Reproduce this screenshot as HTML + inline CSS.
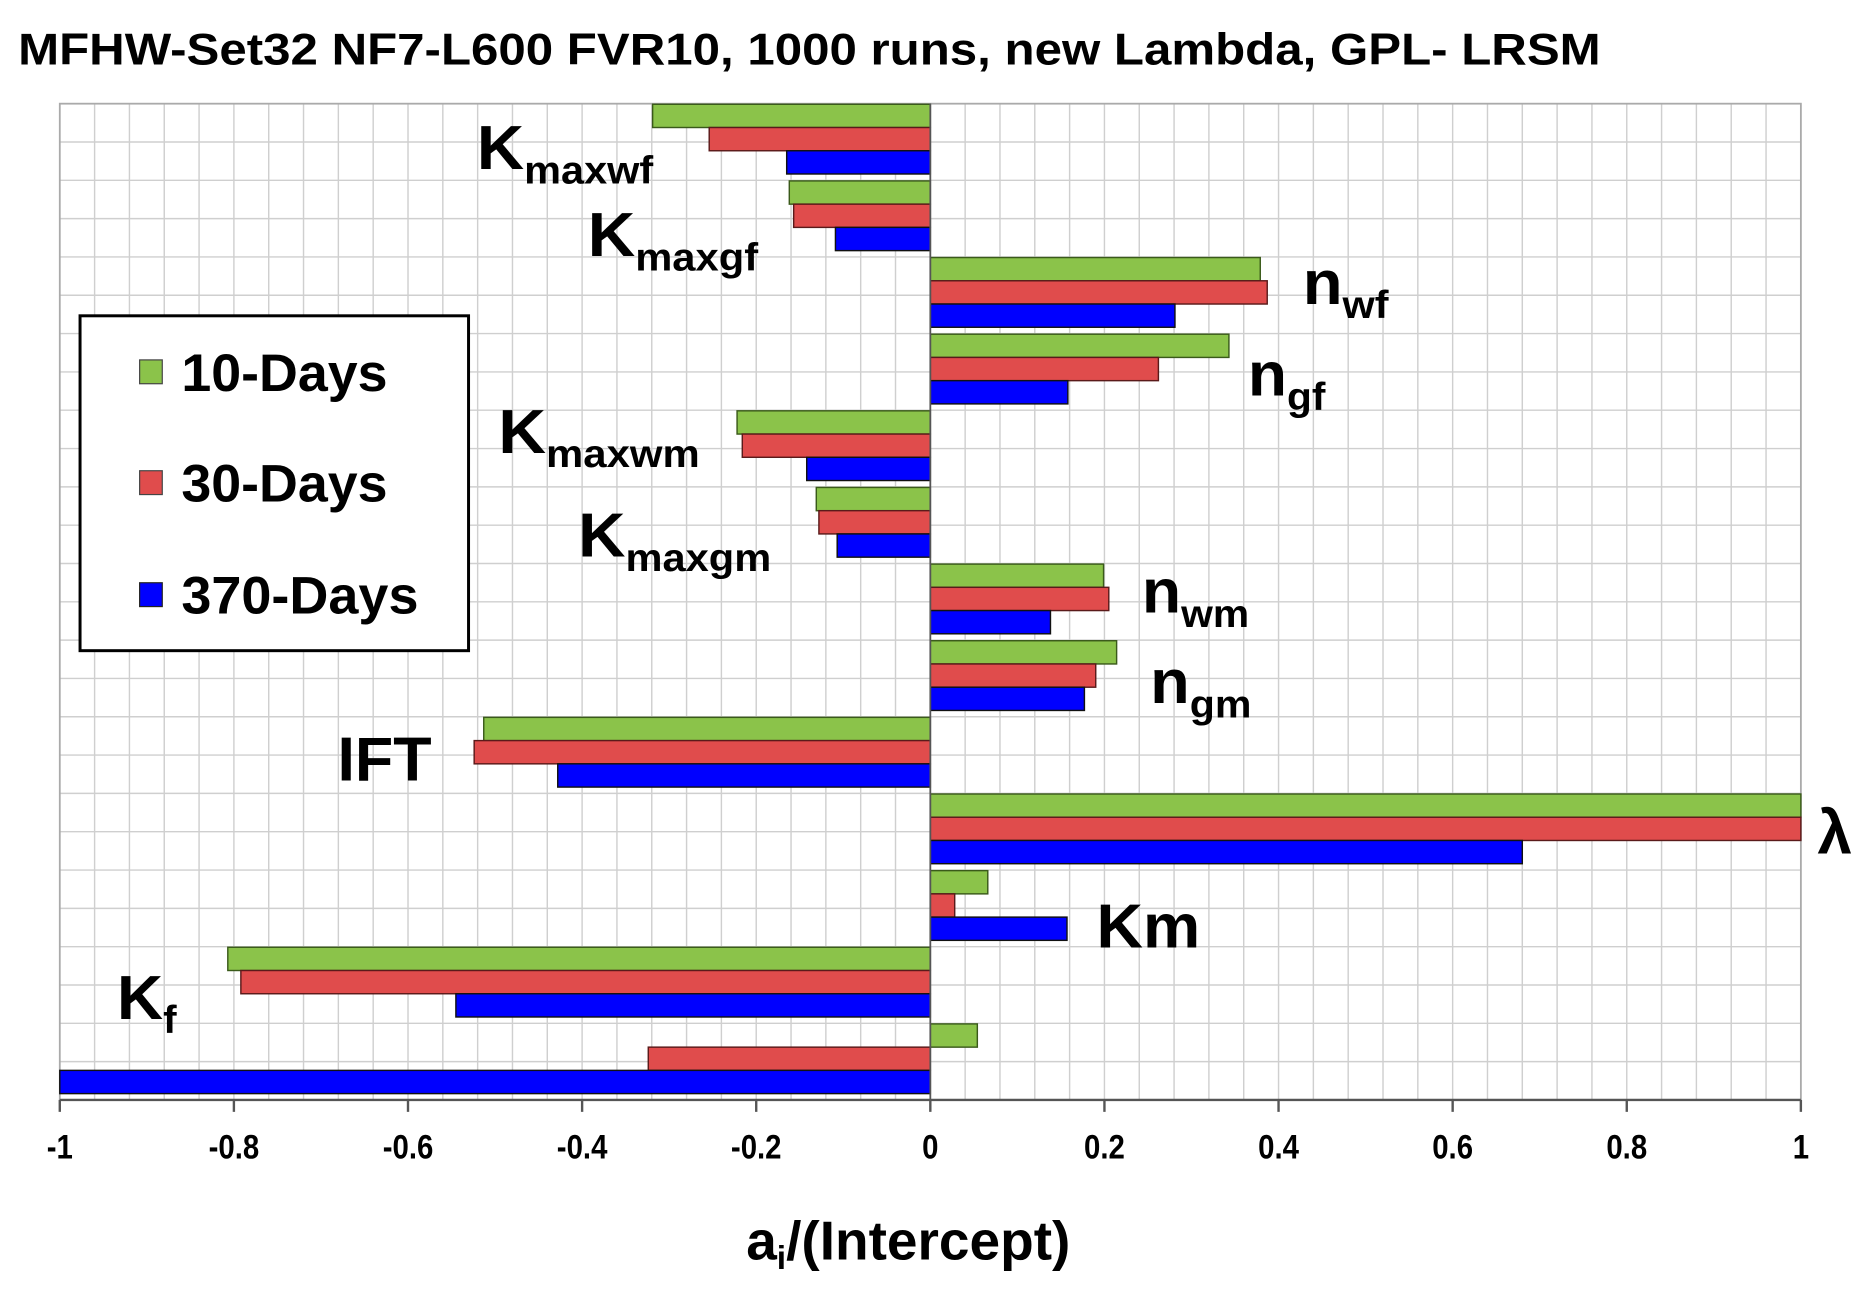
<!DOCTYPE html>
<html><head><meta charset="utf-8"><style>
html,body{margin:0;padding:0;background:#fff;}
svg{display:block;font-family:"Liberation Sans",Arial,sans-serif;font-weight:bold;}
</style></head><body>
<svg id="chart" width="1869" height="1293" viewBox="0 0 1568 1085" xmlns="http://www.w3.org/2000/svg">
<text x="15" y="54" font-size="37" textLength="1328" lengthAdjust="spacingAndGlyphs">MFHW-Set32 NF7-L600 FVR10, 1000 runs, new Lambda, GPL- LRSM</text>
<g id="grid"></g>
<g id="bars"></g>
<g id="axis"></g>
<g id="labels" font-size="52">
<text x="400" y="142" textLength="148" lengthAdjust="spacingAndGlyphs">K<tspan font-size="33" dy="12">maxwf</tspan></text>
<text x="493" y="215" textLength="143" lengthAdjust="spacingAndGlyphs">K<tspan font-size="33" dy="12">maxgf</tspan></text>
<text x="1093" y="255" textLength="72" lengthAdjust="spacingAndGlyphs">n<tspan font-size="33" dy="12">wf</tspan></text>
<text x="1047" y="332" textLength="65" lengthAdjust="spacingAndGlyphs">n<tspan font-size="33" dy="12">gf</tspan></text>
<text x="418" y="380" textLength="169" lengthAdjust="spacingAndGlyphs">K<tspan font-size="33" dy="12">maxwm</tspan></text>
<text x="485" y="467" textLength="162" lengthAdjust="spacingAndGlyphs">K<tspan font-size="33" dy="12">maxgm</tspan></text>
<text x="958" y="514" textLength="90" lengthAdjust="spacingAndGlyphs">n<tspan font-size="33" dy="12">wm</tspan></text>
<text x="965" y="590" textLength="85" lengthAdjust="spacingAndGlyphs">n<tspan font-size="33" dy="12">gm</tspan></text>
<text x="283" y="655" textLength="79" lengthAdjust="spacingAndGlyphs">IFT</text>
<text x="1525" y="716">λ</text>
<text x="920" y="795" textLength="87" lengthAdjust="spacingAndGlyphs">Km</text>
<text x="98" y="855" textLength="50" lengthAdjust="spacingAndGlyphs">K<tspan font-size="33" dy="12">f</tspan></text>
</g>
<g>
<rect x="67" y="265" width="326" height="281" fill="#fff" stroke="#000" stroke-width="2.5"/>
<rect x="117" y="302" width="19" height="20" fill="#8bc34a" stroke="#444" stroke-width="1"/>
<text x="152" y="328" font-size="44" textLength="173" lengthAdjust="spacingAndGlyphs">10-Days</text>
<rect x="117" y="395" width="19" height="20" fill="#e04c4c" stroke="#444" stroke-width="1"/>
<text x="152" y="421" font-size="44" textLength="173" lengthAdjust="spacingAndGlyphs">30-Days</text>
<rect x="117" y="489" width="19" height="20" fill="#0000ff" stroke="#222" stroke-width="1"/>
<text x="152" y="515" font-size="44" textLength="199" lengthAdjust="spacingAndGlyphs">370-Days</text>
</g>
<text x="626" y="1057" font-size="46" textLength="272" lengthAdjust="spacingAndGlyphs">a<tspan font-size="28" dy="8">i</tspan><tspan dy="-8">/(Intercept)</tspan></text>
<script>
const categories = ["Kmaxwf","Kmaxgf","nwf","ngf","Kmaxwm","Kmaxgm","nwm","ngm","IFT","lambda","Km","Kf","other"];
const days10 = [-0.319,-0.162,0.379,0.343,-0.222,-0.131,0.199,0.214,-0.513,1.0,0.066,-0.807,0.054];
const days30 = [-0.254,-0.157,0.387,0.262,-0.216,-0.128,0.205,0.190,-0.524,1.0,0.028,-0.792,-0.324];
const days370 = [-0.165,-0.109,0.281,0.158,-0.142,-0.107,0.138,0.177,-0.428,0.680,0.157,-0.545,-1.0];
const xTicks = [-1,-0.8,-0.6,-0.4,-0.2,0,0.2,0.4,0.6,0.8,1];
const tickLabels = ["-1","-0.8","-0.6","-0.4","-0.2","0","0.2","0.4","0.6","0.8","1"];

const NS="http://www.w3.org/2000/svg";
const L=50,R=1511,T=87,B=923;
const xs=v=>L+(v+1)/2*(R-L);
const groupH=(B-T)/categories.length;
function mk(tag,attrs,parent){const e=document.createElementNS(NS,tag);for(const k in attrs)e.setAttribute(k,attrs[k]);parent.appendChild(e);return e;}
const grid=document.getElementById('grid');
for(let i=0;i<=50;i++){const x=L+i*(R-L)/50;
 const ln=mk('line',{x1:x,x2:x,y1:T,y2:B,stroke:'#cfcfcf','stroke-width':1.2},grid);
 
 }
for(let i=0;i<=categories.length*2;i++){const y=T+i*groupH/2;
 const ln=mk('line',{x1:L,x2:R,y1:y,y2:y,stroke:'#cfcfcf','stroke-width':1.2},grid);
 
 }
mk('rect',{x:L,y:T,width:R-L,height:B-T,fill:'none',stroke:'#aaa','stroke-width':1.5},grid);
const bars=document.getElementById('bars');
const series=[[days10,'#8bc34a','#3a5a1a','10-days'],[days30,'#e04c4c','#5a1a1a','30-days'],[days370,'#0000ff','#111','370-days']];
const bh=19.5;
categories.forEach((c,i)=>{
 const gy=T+i*groupH+0.5;
 series.forEach((s,j)=>{
  const v=s[0][i];const x0=xs(0),x1=xs(v);
  const r=mk('rect',{x:Math.min(x0,x1),y:gy+j*bh,width:Math.abs(x1-x0),height:bh,fill:s[1],stroke:s[2],'stroke-width':1.2},bars);
  
  
 });
});
const axis=document.getElementById('axis');
mk('line',{x1:L,x2:R,y1:B,y2:B,stroke:'#555','stroke-width':2},axis);
mk('line',{x1:xs(0),x2:xs(0),y1:T,y2:B,stroke:'#555','stroke-width':1.5},axis);
xTicks.forEach((t,i)=>{
 const x=xs(t);
 mk('line',{x1:x,x2:x,y1:B,y2:B+10,stroke:'#555','stroke-width':2},axis);
 const tx=mk('text',{x:x,y:972,'font-size':29,'text-anchor':'middle',transform:'translate('+x+' 0) scale(0.85 1) translate('+(-x)+' 0)'},axis);
 tx.textContent=tickLabels[i];
 
 
});
</script>
</svg>
</body></html>
